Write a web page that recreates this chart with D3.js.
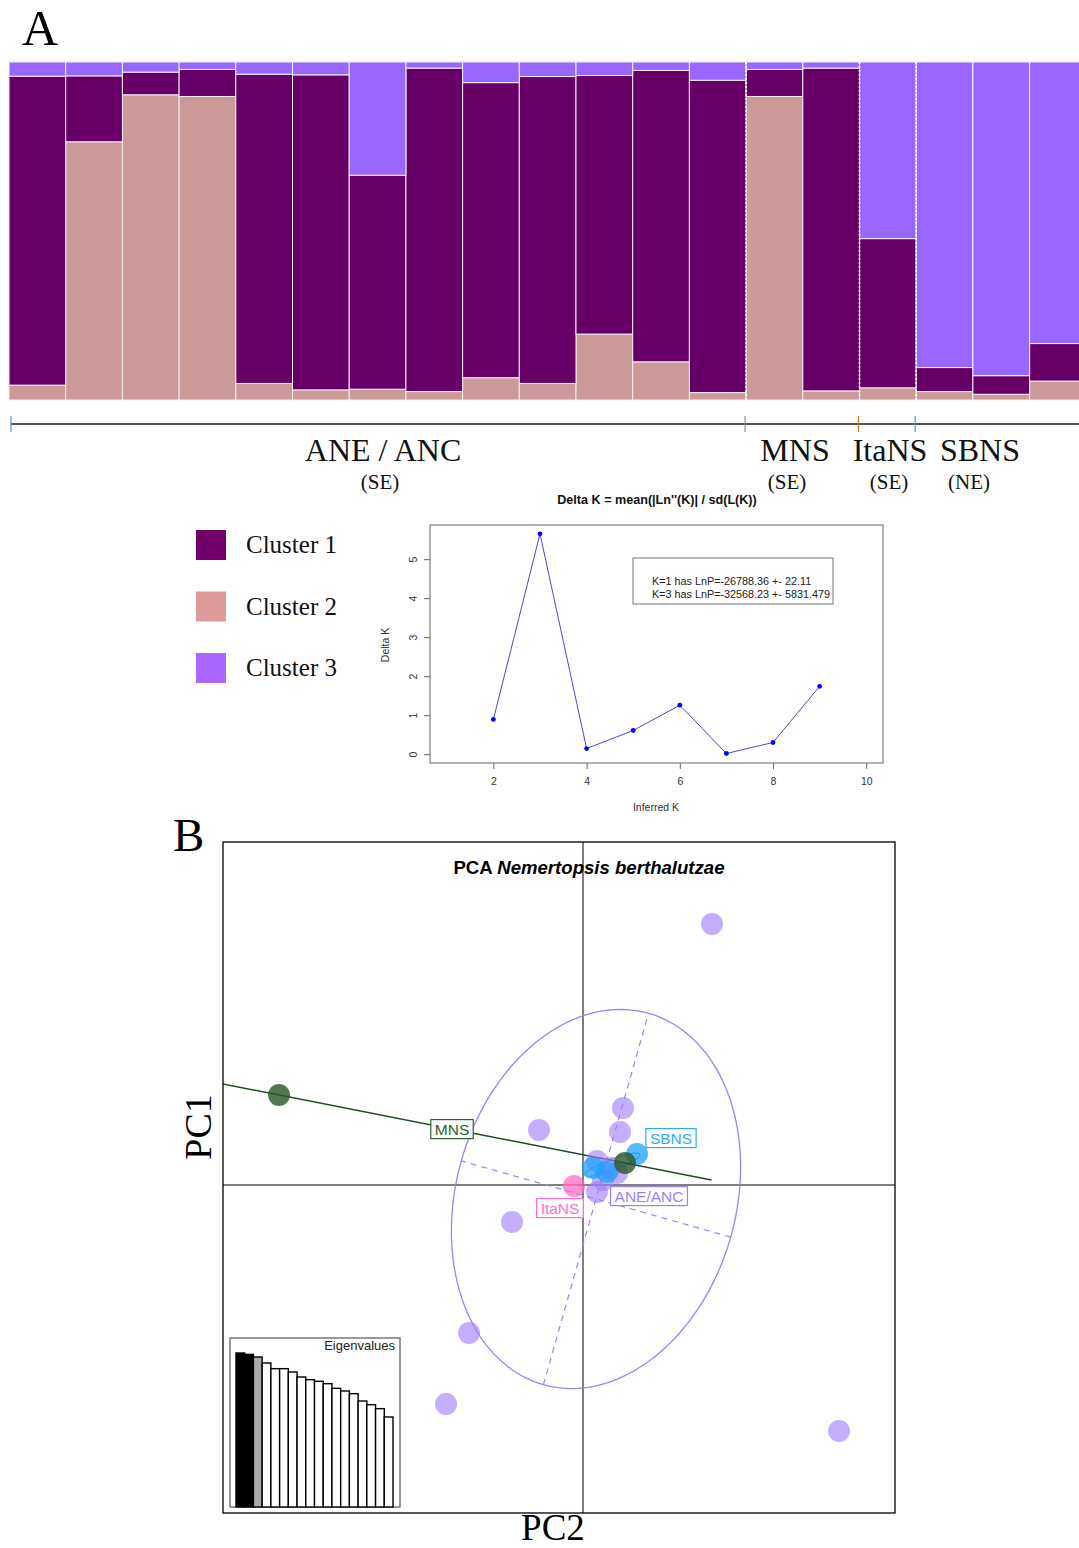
<!DOCTYPE html>
<html>
<head>
<meta charset="utf-8">
<script src="https://cdn.jsdelivr.net/npm/d3@7"></script>
<style>
  body { margin: 0; background: #fff; }
  svg { display: block; }
</style>
</head>
<body>
<div id="chart"></div>
<script>
// ---- Panel A: STRUCTURE membership (one value per individual) ----
const cluster1 = [0.914, 0.195, 0.067, 0.080, 0.914, 0.932, 0.633, 0.958, 0.873, 0.907, 0.765, 0.862, 0.924, 0.080, 0.955, 0.441, 0.071, 0.055, 0.111];
const cluster2 = [0.044, 0.764, 0.903, 0.898, 0.049, 0.030, 0.032, 0.025, 0.066, 0.049, 0.195, 0.113, 0.022, 0.898, 0.027, 0.036, 0.025, 0.017, 0.056];
const cluster3 = [0.042, 0.041, 0.030, 0.022, 0.036, 0.038, 0.335, 0.018, 0.061, 0.043, 0.040, 0.025, 0.054, 0.022, 0.018, 0.522, 0.904, 0.928, 0.833];
const popNames = ["ANE / ANC", "MNS", "ItaNS", "SBNS"];
const popRegions = ["(SE)", "(SE)", "(SE)", "(NE)"];
const popSizes = [13, 2, 1, 3];
const clusterNames = ["Cluster 1", "Cluster 2", "Cluster 3"];

// ---- Delta K (Evanno) ----
const inferredK = [2, 3, 4, 5, 6, 7, 8, 9];
const deltaK = [0.89, 5.65, 0.145, 0.607, 1.256, 0.017, 0.30, 1.74];
const kTicks = [2, 4, 6, 8, 10];
const deltaTicks = [0, 1, 2, 3, 4, 5];
const lnPNotes = ["K=1 has LnP=-26788.36 +- 22.11", "K=3 has LnP=-32568.23 +- 5831.479"];

// ---- Panel B: PCA scores (PC2, PC1) ----
const pcaGroups = ["ANE/ANC", "SBNS", "MNS", "ItaNS"];
const scoresANE = [[2.58, 5.22], [0.80, 1.54], [-0.88, 1.10], [0.74, 1.06], [-1.42, -0.74], [-2.28, -2.96], [-2.74, -4.38], [5.12, -4.92], [0.28, 0.48], [0.68, 0.24], [0.28, -0.14], [0.40, 0.10], [0.54, 0.34]];
const scoresSBNS = [[1.08, 0.62], [0.20, 0.34], [0.48, 0.26]];
const scoresMNS = [[-6.08, 1.80], [0.84, 0.44]];
const scoresItaNS = [[-0.18, -0.02]];
const aneEllipse = { cx: 0.26, cy: -0.28, a: 3.86, b: 2.8, angle: 74.2 };
const groupLabelAt = [[1.32, -0.22], [1.76, 0.94], [-2.62, 1.12], [-0.46, -0.46]];
const eigenvalues = [4.62, 4.58, 4.50, 4.32, 4.15, 4.15, 4.05, 3.90, 3.82, 3.77, 3.70, 3.56, 3.48, 3.40, 3.18, 3.07, 2.95, 2.70];

const W = 1079, H = 1548;
const serif = "'Liberation Serif', 'Times New Roman', serif";
const sans = "'Liberation Sans', Arial, sans-serif";

const svg = d3.select("#chart").append("svg")
  .attr("width", W).attr("height", H)
  .attr("viewBox", `0 0 ${W} ${H}`);
svg.append("rect").attr("width", W).attr("height", H).attr("fill", "#fff");

// ================= Panel A =================
const clusterColors = ["#660066", "#cc9999", "#9966ff"];
const legendColors = ["#720068", "#dc9a9a", "#aa66ff"];

const nInd = cluster1.length;
const rows = d3.range(nInd).map(i => {
  const s = cluster1[i] + cluster2[i] + cluster3[i];
  return { id: i, c1: cluster1[i] / s, c2: cluster2[i] / s, c3: cluster3[i] / s };
});

const xBar = d3.scaleBand().domain(d3.range(nInd)).range([9, 9 + 56.7 * nInd]).paddingInner(0);
const yBar = d3.scaleLinear().domain([0, 1]).range([400, 62]);

const stack = d3.stack().keys(["c2", "c1", "c3"]);
const series = stack(rows);
const keyColor = { c1: clusterColors[0], c2: clusterColors[1], c3: clusterColors[2] };

svg.append("clipPath").attr("id", "clipA")
  .append("rect").attr("x", 0).attr("y", 0).attr("width", W).attr("height", 420);

const gBars = svg.append("g").attr("clip-path", "url(#clipA)");
series.forEach(s => {
  gBars.append("g")
    .selectAll("rect")
    .data(s)
    .join("rect")
    .attr("x", (d, i) => xBar(i))
    .attr("width", xBar.bandwidth())
    .attr("y", d => yBar(d[1]))
    .attr("height", d => yBar(d[0]) - yBar(d[1]))
    .attr("fill", keyColor[s.key])
    .attr("stroke", "#f6eef6")
    .attr("stroke-width", 1);
});

// population boundaries
const cum = d3.cumsum(popSizes);
const boundaries = cum.slice(0, -1);
gBars.selectAll("line.sep")
  .data(boundaries)
  .join("line")
  .attr("x1", d => xBar(d)).attr("x2", d => xBar(d))
  .attr("y1", yBar(1)).attr("y2", yBar(0))
  .attr("stroke", "#ffffff")
  .attr("stroke-width", 1.6)
  .attr("stroke-dasharray", "2,2");

// axis line with population ticks
const axisY = 424;
svg.append("line")
  .attr("x1", 11).attr("x2", W)
  .attr("y1", axisY).attr("y2", axisY)
  .attr("stroke", "#555").attr("stroke-width", 2);
const tickColors = ["#5b8fc9", "#8a8a8a", "#b5803a", "#6b8fb0"];
svg.selectAll("line.ptick")
  .data([0, ...boundaries])
  .join("line")
  .attr("x1", (d, i) => i === 0 ? 11 : xBar(d) - 1)
  .attr("x2", (d, i) => i === 0 ? 11 : xBar(d) - 1)
  .attr("y1", axisY - 8).attr("y2", axisY + 8)
  .attr("stroke", (d, i) => tickColors[i]).attr("stroke-width", 1.2);

// population labels
const labelX = [383, 795, 890, 980];
const regionX = [380, 787, 889, 969];
popNames.forEach((name, i) => {
  svg.append("text")
    .attr("x", labelX[i]).attr("y", 461)
    .attr("text-anchor", "middle")
    .attr("font-family", serif).attr("font-size", 32)
    .attr("fill", "#111")
    .text(name);
  svg.append("text")
    .attr("x", regionX[i]).attr("y", 489)
    .attr("text-anchor", "middle")
    .attr("font-family", serif).attr("font-size", 21)
    .attr("fill", "#111")
    .text(popRegions[i]);
});

svg.append("text")
  .attr("x", 22).attr("y", 45)
  .attr("font-family", serif).attr("font-size", 50)
  .attr("fill", "#000").text("A");

// cluster legend
const legY = d3.scalePoint().domain(clusterNames).range([545, 668]);
const leg = svg.append("g");
leg.selectAll("rect")
  .data(clusterNames)
  .join("rect")
  .attr("x", 196).attr("y", d => legY(d) - 15)
  .attr("width", 30).attr("height", 30)
  .attr("fill", (d, i) => legendColors[i]);
leg.selectAll("text")
  .data(clusterNames)
  .join("text")
  .attr("x", 246).attr("y", d => legY(d) + 8)
  .attr("font-family", serif).attr("font-size", 25)
  .attr("fill", "#111")
  .text(d => d);

// ================= Delta K plot =================
const kBox = { x0: 430, x1: 883, y0: 525, y1: 763 };
const xK = d3.scaleLinear().domain([0.64, 10.36]).range([kBox.x0, kBox.x1]);
const yK = d3.scaleLinear().domain([-0.226, 5.876]).range([kBox.y1, kBox.y0]);

svg.append("text")
  .attr("x", 657).attr("y", 504)
  .attr("text-anchor", "middle")
  .attr("font-family", sans).attr("font-size", 12.6).attr("font-weight", "bold")
  .attr("fill", "#111")
  .text("Delta K = mean(|Ln''(K)| / sd(L(K))");

svg.append("rect")
  .attr("x", kBox.x0).attr("y", kBox.y0)
  .attr("width", kBox.x1 - kBox.x0).attr("height", kBox.y1 - kBox.y0)
  .attr("fill", "#fff").attr("stroke", "#666").attr("stroke-width", 1);

const gxK = svg.append("g")
  .attr("transform", `translate(0,${kBox.y1})`)
  .call(d3.axisBottom(xK).tickValues(kTicks).tickSize(6).tickPadding(9));
gxK.select(".domain").remove();
gxK.selectAll("line").attr("stroke", "#666");
gxK.selectAll("text").attr("font-family", sans).attr("font-size", 10.5).attr("fill", "#333");

const gyK = svg.append("g")
  .attr("transform", `translate(${kBox.x0},0)`)
  .call(d3.axisLeft(yK).tickValues(deltaTicks).tickFormat(d3.format("d")).tickSize(6));
gyK.select(".domain").remove();
gyK.selectAll("line").attr("stroke", "#666");
gyK.selectAll("text")
  .attr("font-family", sans).attr("font-size", 10.5).attr("fill", "#333")
  .attr("text-anchor", "middle")
  .attr("x", null).attr("dy", null)
  .attr("transform", "translate(-17,0) rotate(-90)")
  .attr("y", 3.5);

svg.append("text")
  .attr("transform", `translate(389,${yK(2.8)}) rotate(-90)`)
  .attr("text-anchor", "middle")
  .attr("font-family", sans).attr("font-size", 10.5).attr("fill", "#333")
  .text("Delta K");
svg.append("text")
  .attr("x", 656).attr("y", 811)
  .attr("text-anchor", "middle")
  .attr("font-family", sans).attr("font-size", 10.5).attr("fill", "#333")
  .text("Inferred K");

const kData = inferredK.map((k, i) => ({ k, v: deltaK[i] }));
svg.append("path")
  .datum(kData)
  .attr("fill", "none")
  .attr("stroke", "#4a4ad8")
  .attr("stroke-width", 1)
  .attr("d", d3.line().x(d => xK(d.k)).y(d => yK(d.v)));
svg.append("g").selectAll("circle")
  .data(kData)
  .join("circle")
  .attr("cx", d => xK(d.k)).attr("cy", d => yK(d.v))
  .attr("r", 2.4).attr("fill", "#0000ff");

// LnP note box
svg.append("rect")
  .attr("x", 633).attr("y", 558).attr("width", 200).attr("height", 46)
  .attr("fill", "#fff").attr("stroke", "#777").attr("stroke-width", 1);
svg.append("g").selectAll("text")
  .data(lnPNotes)
  .join("text")
  .attr("x", 652).attr("y", (d, i) => 585 + i * 13)
  .attr("font-family", sans).attr("font-size", 10.8).attr("fill", "#222")
  .text(d => d);

// ================= Panel B: PCA =================
const box = { x0: 223, x1: 895, y0: 842, y1: 1513 };
const px = d3.scaleLinear().domain([-7.2, 6.24]).range([box.x0, box.x1]);
const py = d3.scaleLinear().domain([-6.56, 6.86]).range([box.y1, box.y0]);

svg.append("text")
  .attr("x", 173).attr("y", 851)
  .attr("font-family", serif).attr("font-size", 47)
  .attr("fill", "#000").text("B");

svg.append("clipPath").attr("id", "clipB")
  .append("rect")
  .attr("x", box.x0).attr("y", box.y0)
  .attr("width", box.x1 - box.x0).attr("height", box.y1 - box.y0);

svg.append("rect")
  .attr("x", box.x0).attr("y", box.y0)
  .attr("width", box.x1 - box.x0).attr("height", box.y1 - box.y0)
  .attr("fill", "#fff");

const gP = svg.append("g").attr("clip-path", "url(#clipB)");

// zero axes
gP.append("line")
  .attr("x1", px(0)).attr("x2", px(0)).attr("y1", box.y0).attr("y2", box.y1)
  .attr("stroke", "#000").attr("stroke-width", 1);
gP.append("line")
  .attr("x1", box.x0).attr("x2", box.x1).attr("y1", py(0)).attr("y2", py(0))
  .attr("stroke", "#000").attr("stroke-width", 1);

const groupColors = ["#9f7fff", "#2ea8ff", "#2f5f2f", "#ff6fc8"];
const pointColors = ["rgba(160,120,255,0.6)", "rgba(30,160,255,0.75)", "rgba(40,85,40,0.8)", "rgba(255,110,200,0.75)"];

// ANE/ANC ellipse and its axes
function ellipsePts(cx, cy, a, b, deg) {
  const t = deg * Math.PI / 180;
  return d3.range(0, 2 * Math.PI, Math.PI / 90).map(u => [
    cx + a * Math.cos(u) * Math.cos(t) - b * Math.sin(u) * Math.sin(t),
    cy + a * Math.cos(u) * Math.sin(t) + b * Math.sin(u) * Math.cos(t)
  ]);
}
const ellLine = d3.line().x(d => px(d[0])).y(d => py(d[1])).curve(d3.curveLinearClosed);

const e = aneEllipse, th = e.angle * Math.PI / 180;
gP.append("path")
  .attr("d", ellLine(ellipsePts(e.cx, e.cy, e.a, e.b, e.angle)))
  .attr("fill", "none").attr("stroke", groupColors[0]).attr("stroke-width", 1.3);
const axesANE = [
  [[e.cx - e.a * Math.cos(th), e.cy - e.a * Math.sin(th)], [e.cx + e.a * Math.cos(th), e.cy + e.a * Math.sin(th)]],
  [[e.cx + e.b * Math.sin(th), e.cy - e.b * Math.cos(th)], [e.cx - e.b * Math.sin(th), e.cy + e.b * Math.cos(th)]]
];
gP.selectAll("line.eax")
  .data(axesANE)
  .join("line")
  .attr("x1", d => px(d[0][0])).attr("y1", d => py(d[0][1]))
  .attr("x2", d => px(d[1][0])).attr("y2", d => py(d[1][1]))
  .attr("stroke", groupColors[0]).attr("stroke-width", 1.2)
  .attr("stroke-dasharray", "6,5");

// SBNS ellipse from covariance (1.5 sd)
function covEllipse(pts, k) {
  const mx = d3.mean(pts, d => d[0]), my = d3.mean(pts, d => d[1]);
  const sxx = d3.mean(pts, d => (d[0] - mx) ** 2);
  const syy = d3.mean(pts, d => (d[1] - my) ** 2);
  const sxy = d3.mean(pts, d => (d[0] - mx) * (d[1] - my));
  const tr = sxx + syy, det = sxx * syy - sxy * sxy;
  const l1 = tr / 2 + Math.sqrt(Math.max(tr * tr / 4 - det, 0));
  const l2 = Math.max(tr / 2 - Math.sqrt(Math.max(tr * tr / 4 - det, 0)), 0);
  const ang = Math.atan2(l1 - sxx, sxy || 1e-9) * 180 / Math.PI;
  return { mx, my, a: k * Math.sqrt(l1), b: k * Math.sqrt(l2), ang };
}
const sb = covEllipse(scoresSBNS, 1.5);
gP.append("path")
  .attr("d", ellLine(ellipsePts(sb.mx, sb.my, sb.a, sb.b, sb.ang)))
  .attr("fill", "none").attr("stroke", groupColors[1]).attr("stroke-width", 1.2);

// MNS: degenerate ellipse -> segment through its two points
const mnsC = [d3.mean(scoresMNS, d => d[0]), d3.mean(scoresMNS, d => d[1])];
const mnsV = [1.5 * (scoresMNS[1][0] - mnsC[0]), 1.5 * (scoresMNS[1][1] - mnsC[1])];
gP.append("line")
  .attr("x1", px(mnsC[0] - mnsV[0])).attr("y1", py(mnsC[1] - mnsV[1]))
  .attr("x2", px(mnsC[0] + mnsV[0])).attr("y2", py(mnsC[1] + mnsV[1]))
  .attr("stroke", "#1f4d1f").attr("stroke-width", 1.5);

// points
const allScores = [scoresANE, scoresSBNS, scoresMNS, scoresItaNS];
allScores.forEach((pts, gi) => {
  gP.append("g").selectAll("circle")
    .data(pts)
    .join("circle")
    .attr("cx", d => px(d[0])).attr("cy", d => py(d[1]))
    .attr("r", 11)
    .attr("fill", pointColors[gi]);
});

// group labels
pcaGroups.forEach((name, i) => {
  const g = gP.append("g")
    .attr("transform", `translate(${px(groupLabelAt[i][0])},${py(groupLabelAt[i][1])})`);
  const t = g.append("text")
    .attr("text-anchor", "middle").attr("dy", "0.36em")
    .attr("font-family", sans).attr("font-size", 15.5)
    .attr("fill", groupColors[i])
    .text(name);
  const bb = t.node().getBBox();
  g.insert("rect", "text")
    .attr("x", bb.x - 4).attr("y", bb.y - 1)
    .attr("width", bb.width + 8).attr("height", bb.height + 2)
    .attr("fill", "#fff").attr("fill-opacity", 0.9)
    .attr("stroke", groupColors[i]).attr("stroke-width", 1.2);
});

// title
svg.append("text")
  .attr("x", 589).attr("y", 874)
  .attr("text-anchor", "middle")
  .attr("font-family", sans).attr("font-size", 18.6).attr("font-weight", "bold")
  .attr("fill", "#000")
  .call(t => {
    t.append("tspan").text("PCA ");
    t.append("tspan").attr("font-style", "italic").text("Nemertopsis berthalutzae");
  });

// eigenvalue inset
const inset = { x0: 230, x1: 400, y0: 1338, y1: 1507 };
svg.append("rect")
  .attr("x", inset.x0).attr("y", inset.y0)
  .attr("width", inset.x1 - inset.x0).attr("height", inset.y1 - inset.y0)
  .attr("fill", "#fff").attr("stroke", "#555").attr("stroke-width", 1.2);
const xE = d3.scaleBand().domain(d3.range(eigenvalues.length)).range([236, 393]).paddingInner(0);
const yE = d3.scaleLinear().domain([0, d3.max(eigenvalues)]).range([1507, 1353]);
svg.append("g").selectAll("rect")
  .data(eigenvalues)
  .join("rect")
  .attr("x", (d, i) => xE(i)).attr("width", xE.bandwidth())
  .attr("y", d => yE(d)).attr("height", d => yE(0) - yE(d))
  .attr("fill", (d, i) => i < 2 ? "#000" : i === 2 ? "#aaa" : "#fff")
  .attr("stroke", "#000").attr("stroke-width", 1.4);
svg.append("text")
  .attr("x", 395).attr("y", 1350)
  .attr("text-anchor", "end")
  .attr("font-family", sans).attr("font-size", 13).attr("fill", "#222")
  .text("Eigenvalues");

// PCA frame on top
svg.append("rect")
  .attr("x", box.x0).attr("y", box.y0)
  .attr("width", box.x1 - box.x0).attr("height", box.y1 - box.y0)
  .attr("fill", "none").attr("stroke", "#000").attr("stroke-width", 1.3);

// axis names
svg.append("text")
  .attr("transform", "translate(211,1127) rotate(-90)")
  .attr("text-anchor", "middle")
  .attr("font-family", serif).attr("font-size", 38).attr("fill", "#000")
  .text("PC1");
svg.append("text")
  .attr("x", 553).attr("y", 1540)
  .attr("text-anchor", "middle")
  .attr("font-family", serif).attr("font-size", 37).attr("fill", "#000")
  .text("PC2");
</script>
</body>
</html>
